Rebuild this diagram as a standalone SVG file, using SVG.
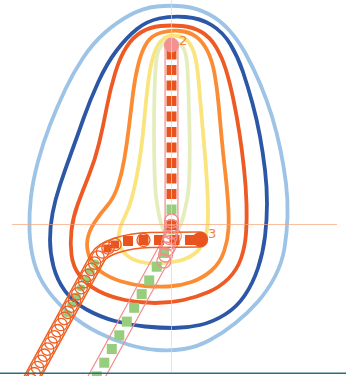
<svg xmlns="http://www.w3.org/2000/svg" xmlns:xlink="http://www.w3.org/1999/xlink" width="346" height="376" viewBox="0 0 346 376">
<style>
.ct{fill:none;stroke-width:3.8;stroke-linejoin:round}
.or{fill:#e9531d}
.gr{fill:#97cd7d}
.oc{fill:none;stroke:#ee5f22;stroke-width:1.3}
.pc{fill:none;stroke:#f28c8c;stroke-width:1.3}
.lbl{font-family:"DejaVu Sans",sans-serif;font-size:13px;fill:#f0843c}
</style>
<defs>
<rect id="sq" x="-5" y="-5" width="10" height="10"/>
<rect id="sqs" x="-4" y="-4" width="8" height="8"/>
<path id="pOr" d="M200 239.5 L150 240 C125 240.5 102.8 248.2 98 257 L28 385"/>
<path id="pV" d="M171.5 45 L171.5 226"/>
<path id="pG" d="M173.5 236 L88.3 392"/>
<mask id="mOr" maskUnits="userSpaceOnUse" x="0" y="0" width="346" height="376">
<use xlink:href="#pOr" fill="none" stroke="#fff" stroke-width="16.5" stroke-linecap="round" stroke-linejoin="round"/>
<use xlink:href="#pOr" fill="none" stroke="#000" stroke-width="13.5" stroke-linecap="round" stroke-linejoin="round"/>
</mask>
<mask id="mV" maskUnits="userSpaceOnUse" x="0" y="0" width="346" height="376">
<use xlink:href="#pV" fill="none" stroke="#fff" stroke-width="14" stroke-linecap="round"/>
<use xlink:href="#pV" fill="none" stroke="#000" stroke-width="11.6" stroke-linecap="round"/>
</mask>
<mask id="mG" maskUnits="userSpaceOnUse" x="0" y="0" width="346" height="376">
<use xlink:href="#pG" fill="none" stroke="#fff" stroke-width="16.8" stroke-linecap="round"/>
<use xlink:href="#pG" fill="none" stroke="#000" stroke-width="14.4" stroke-linecap="round"/>
</mask>
</defs>
<rect width="346" height="376" fill="#fff"/>
<g id="contours">
<path id="c1" class="ct" stroke="#9dc3e6" stroke-width="4.2" d="M157 6.5 Q171 5 184 6.5 Q197 8 208.5 14 Q220 20 229 30 Q238 40 245.5 53.5 Q253 67 260 83.5 Q267 100 272 116.5 Q277 133 280.5 150 Q284 167 286 183.5 Q288 200 287.5 216.5 Q287 233 284.5 248 Q282 263 275 276.5 Q268 290 258 301.5 Q248 313 235.5 323 Q223 333 210 340 Q197 347 184 349 Q171 351 157 350 Q143 349 128 344.5 Q113 340 98 332.5 Q83 325 70 314 Q57 303 47.5 290 Q38 277 34 262 Q30 247 29.5 230 Q29 213 31 196.5 Q33 180 38 161.5 Q43 143 50 125 Q57 107 65 90 Q73 73 83 58 Q93 43 105 32.5 Q117 22 130 15 Q143 8 157 6.5 Z"/>
<path id="c2" class="ct" stroke="#2c56a6" d="M159 18.5 Q171 16 185.5 17 Q200 18 211.5 25 Q223 32 230.5 44.5 Q238 57 243 72 Q248 87 252.5 103.5 Q257 120 260 136.5 Q263 153 265 170 Q267 187 267 203.5 Q267 220 265 236.5 Q263 253 258 268 Q253 283 245 295 Q237 307 225 314.5 Q213 322 200 325 Q187 328 173.5 328 Q160 328 145 326.5 Q130 325 115 321 Q100 317 86.5 309.5 Q73 302 65 291 Q57 280 53.5 266.5 Q50 253 50 240 Q50 227 52.5 213.5 Q55 200 60 185 Q65 170 71 153.5 Q77 137 83.5 118.5 Q90 100 98.5 81.5 Q107 63 117 50 Q127 37 137 29 Q147 21 159 18.5 Z"/>
<path id="c3" class="ct" stroke="#ee5a24" d="M160.5 26 Q171 25 182 26 Q193 27 201.5 32 Q210 37 216 47 Q222 57 226 70 Q230 83 233.5 100 Q237 117 239.5 133.5 Q242 150 244 168.5 Q246 187 246.5 203.5 Q247 220 246 233.5 Q245 247 241 258.5 Q237 270 228.5 278.5 Q220 287 208.5 292 Q197 297 183.5 300 Q170 303 155 303 Q140 303 125 300 Q110 297 98.5 291 Q87 285 80 276 Q73 267 71.5 255 Q70 243 71.5 230 Q73 217 78 203.5 Q83 190 89 175 Q95 160 99 143.5 Q103 127 106.5 108.5 Q110 90 115 73.5 Q120 57 126.5 47 Q133 37 141.5 32 Q150 27 160.5 26 Z"/>
<path id="c4" class="ct" stroke="#fb8c34" d="M161.5 32.5 Q171 30 180.5 31 Q190 32 196.5 37 Q203 42 207.5 51 Q212 60 214.5 73.5 Q217 87 218.5 103.5 Q220 120 221.5 136.5 Q223 153 225 170 Q227 187 228 202 Q229 217 228.5 228.5 Q228 240 224 251.5 Q220 263 211.5 270.5 Q203 278 191.5 282 Q180 286 168.5 286.5 Q157 287 145 286 Q133 285 121.5 281.5 Q110 278 101.5 272 Q93 266 89.5 257 Q86 248 87.5 239.5 Q89 231 94.5 222.5 Q100 214 107 206 Q114 198 118 185.5 Q122 173 124.5 158 Q127 143 129 126.5 Q131 110 133 93.5 Q135 77 138.5 63.5 Q142 50 147 42.5 Q152 35 161.5 32.5 Z"/>
<path id="c5" class="ct" stroke="#fbe37d" d="M166.5 37 Q171 35 177.5 36 Q184 37 188 41.5 Q192 46 194.5 54.5 Q197 63 198.5 80 Q200 97 201.5 115 Q203 133 204.5 149.5 Q206 166 207 183 Q208 200 208 214 Q208 228 205.5 237 Q203 246 196.5 252 Q190 258 180 260.5 Q170 263 159 263.5 Q148 264 139 261.5 Q130 259 125 253.5 Q120 248 119 241.5 Q118 235 120 228.5 Q122 222 125.5 215 Q129 208 131.5 199 Q134 190 136.5 177.5 Q139 165 141 150 Q143 135 144.5 117.5 Q146 100 148 84 Q150 68 152.5 59 Q155 50 158.5 44.5 Q162 39 166.5 37 Z"/>
<path id="c6" class="ct" stroke="#e5edbd" stroke-width="3.2" d="M167 42 Q171 41 175.5 42 Q180 43 183 47.5 Q186 52 187 63.5 Q188 75 188.5 92.5 Q189 110 189.5 130 Q190 150 189.5 170 Q189 190 187 200 Q185 210 183 217.5 Q181 225 178.5 229.5 Q176 234 173.5 235.5 Q171 237 168.5 235.5 Q166 234 163.5 229.5 Q161 225 159.5 217.5 Q158 210 156.5 200 Q155 190 154.5 170 Q154 150 154 130 Q154 110 154.5 92.5 Q155 75 156 63.5 Q157 52 160 47.5 Q163 43 167 42 Z"/>
</g>
<g id="path-green">
<rect width="346" height="376" fill="#f28c8c" mask="url(#mG)"/>
<use xlink:href="#sq" class="gr" x="164.2" y="253"/>
<use xlink:href="#sq" class="gr" x="156.7" y="266.7"/>
<use xlink:href="#sq" class="gr" x="149.2" y="280.4"/>
<use xlink:href="#sq" class="gr" x="141.7" y="294.1"/>
<use xlink:href="#sq" class="gr" x="134.2" y="307.8"/>
<use xlink:href="#sq" class="gr" x="126.8" y="321.6"/>
<use xlink:href="#sq" class="gr" x="119.3" y="335.3"/>
<use xlink:href="#sq" class="gr" x="111.8" y="349"/>
<use xlink:href="#sq" class="gr" x="104.3" y="362.7"/>
<use xlink:href="#sq" class="gr" x="96.8" y="376.4"/>
</g>
<g id="path-vertical">
<rect width="346" height="376" fill="#f28c8c" mask="url(#mV)"/>
<use xlink:href="#sq" class="or" x="171.5" y="54.5"/>
<use xlink:href="#sq" class="or" x="171.5" y="70"/>
<use xlink:href="#sq" class="or" x="171.5" y="85.5"/>
<use xlink:href="#sq" class="or" x="171.5" y="101"/>
<use xlink:href="#sq" class="or" x="171.5" y="116.5"/>
<use xlink:href="#sq" class="or" x="171.5" y="132"/>
<use xlink:href="#sq" class="or" x="171.5" y="147.5"/>
<use xlink:href="#sq" class="or" x="171.5" y="163"/>
<use xlink:href="#sq" class="or" x="171.5" y="178.5"/>
<use xlink:href="#sq" class="or" x="171.5" y="194"/>
<use xlink:href="#sq" class="gr" x="171.5" y="209.5"/>
<use xlink:href="#sq" class="or" x="171.5" y="225"/>
<circle cx="171.5" cy="45" r="7.5" fill="#f39190"/>
</g>
<g id="path-orange">
<rect width="346" height="376" fill="#ee5f22" mask="url(#mOr)"/>
<ellipse class="gr" cx="94.7" cy="263" rx="4.5" ry="3.4"/>
<ellipse class="gr" cx="90.3" cy="271" rx="4.5" ry="3.4"/>
<ellipse class="gr" cx="85.7" cy="279.5" rx="4.5" ry="3.4"/>
<ellipse class="gr" cx="81" cy="288" rx="4.5" ry="3.4"/>
<ellipse class="gr" cx="76.4" cy="296.5" rx="4.5" ry="3.4"/>
<ellipse class="gr" cx="71.7" cy="305" rx="4.5" ry="3.4"/>
<ellipse class="gr" cx="67.1" cy="313.5" rx="4.5" ry="3.4"/>
<use xlink:href="#sq" class="or" x="128" y="241"/>
<use xlink:href="#sq" class="or" x="143.5" y="240"/>
<use xlink:href="#sq" class="or" x="159" y="240"/>
<use xlink:href="#sq" class="or" x="174.5" y="240"/>
<use xlink:href="#sq" class="or" x="190" y="240"/>
<use xlink:href="#sqs" class="or" x="115" y="244.5"/>
<use xlink:href="#sqs" class="or" x="107.5" y="248.5"/>
<circle class="oc" cx="143.5" cy="240" r="6.5"/>
<circle class="oc" cx="115" cy="244.5" r="6.2"/>
<circle class="oc" cx="108" cy="248" r="6.2"/>
<circle class="oc" cx="102.5" cy="252" r="6.2"/>
<circle class="oc" cx="98" cy="257" r="6.2"/>
<circle class="oc" cx="94.6" cy="263.1" r="6.2"/>
<circle class="oc" cx="91.3" cy="269.3" r="6.2"/>
<circle class="oc" cx="87.9" cy="275.4" r="6.2"/>
<circle class="oc" cx="84.6" cy="281.6" r="6.2"/>
<circle class="oc" cx="81.2" cy="287.7" r="6.2"/>
<circle class="oc" cx="77.8" cy="293.8" r="6.2"/>
<circle class="oc" cx="74.5" cy="300" r="6.2"/>
<circle class="oc" cx="71.1" cy="306.1" r="6.2"/>
<circle class="oc" cx="67.8" cy="312.3" r="6.2"/>
<circle class="oc" cx="64.4" cy="318.4" r="6.2"/>
<circle class="oc" cx="61" cy="324.5" r="6.2"/>
<circle class="oc" cx="57.7" cy="330.7" r="6.2"/>
<circle class="oc" cx="54.3" cy="336.8" r="6.2"/>
<circle class="oc" cx="51" cy="343" r="6.2"/>
<circle class="oc" cx="47.6" cy="349.1" r="6.2"/>
<circle class="oc" cx="44.2" cy="355.2" r="6.2"/>
<circle class="oc" cx="40.9" cy="361.4" r="6.2"/>
<circle class="oc" cx="37.5" cy="367.5" r="6.2"/>
<circle class="oc" cx="34.2" cy="373.7" r="6.2"/>
<circle class="oc" cx="30.8" cy="379.8" r="6.2"/>
<circle cx="200" cy="239.5" r="7.5" fill="#e9531d"/>
</g>
<g id="cluster">
<circle class="pc" cx="171.5" cy="221" r="7"/>
<circle class="pc" cx="171.5" cy="226.5" r="7"/>
<circle class="pc" cx="171" cy="232" r="7"/>
<circle class="pc" cx="170" cy="237.5" r="7"/>
<circle class="pc" cx="168.5" cy="243" r="7"/>
<circle class="pc" cx="167" cy="249" r="7"/>
<circle class="pc" cx="165.5" cy="255" r="7"/>
<circle class="pc" cx="164" cy="261" r="7"/>
</g>
<g id="axes" stroke-width="1" opacity="0.7">
<line x1="12" y1="224.5" x2="337" y2="224.5" stroke="#f6a47f"/>
<line x1="171.5" y1="0" x2="171.5" y2="372" stroke="#fdd98a"/>
</g>
<line x1="0" y1="373.2" x2="346" y2="373.2" stroke="#2a6f7d" stroke-width="1.6"/>
<text class="lbl" x="179" y="45">2</text>
<text class="lbl" x="208" y="238">3</text>
</svg>
